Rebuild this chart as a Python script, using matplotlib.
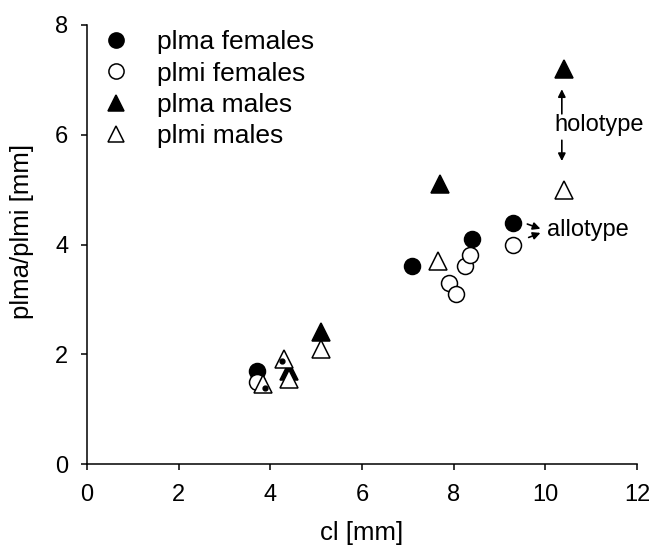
import matplotlib
matplotlib.use("Agg")
import matplotlib.pyplot as plt

# plma / plmi lengths vs. cl
fem_plma_x = [3.7, 7.1, 8.4, 9.3]
fem_plma_y = [1.7, 3.6, 4.1, 4.4]
fem_plmi_x = [3.7, 7.9, 8.05, 8.25, 8.35, 9.3]
fem_plmi_y = [1.5, 3.3, 3.1, 3.6, 3.8, 4.0]
mal_plma_x = [4.4, 5.1, 7.7, 10.4]
mal_plma_y = [1.7, 2.4, 5.1, 7.2]
mal_plmi_x = [3.85, 4.3, 4.4, 5.1, 7.65, 10.4]
mal_plmi_y = [1.45, 1.92, 1.55, 2.1, 3.7, 5.0]
dot_x = [3.88, 4.25]
dot_y = [1.38, 1.87]

plt.rcParams["font.family"] = ["Liberation Sans", "DejaVu Sans"]
plt.rcParams["xtick.direction"] = "out"
plt.rcParams["ytick.direction"] = "out"

fig = plt.figure(figsize=(6.53, 5.47), dpi=100)
ax = fig.add_axes([0.1332, 0.1517, 0.8423, 0.8026])

mew = 1.1
ax.plot(fem_plma_x, fem_plma_y, "o", ms=11.5, mfc="black", mec="black", mew=mew,
        label="plma females", zorder=3)
ax.plot(fem_plmi_x, fem_plmi_y, "o", ms=11.5, mfc="white", mec="black", mew=mew,
        label="plmi females", zorder=3)
ax.plot(mal_plma_x, mal_plma_y, "^", ms=12.5, mfc="black", mec="black", mew=mew,
        label="plma males", zorder=4)
ax.plot(mal_plmi_x, mal_plmi_y, "^", ms=12.5, mfc="white", mec="black", mew=mew,
        label="plmi males", zorder=4)
ax.plot(dot_x, dot_y, "o", ms=3.5, mfc="black", mec="black", zorder=5)

# annotations
arrow_kw = dict(arrowstyle="-|>", color="black", lw=1.2, mutation_scale=11)
ax.text(10.2, 6.17, "holotype", fontsize=17, va="center", ha="left")
ax.annotate("", xy=(10.36, 6.88), xytext=(10.36, 6.33), arrowprops=arrow_kw)
ax.annotate("", xy=(10.36, 5.47), xytext=(10.36, 5.95), arrowprops=arrow_kw)
ax.text(10.04, 4.26, "allotype", fontsize=17, va="center", ha="left")
ax.annotate("", xy=(9.95, 4.27), xytext=(9.55, 4.39), arrowprops=arrow_kw)
ax.annotate("", xy=(9.95, 4.23), xytext=(9.58, 4.11), arrowprops=arrow_kw)

ax.set_xlim(0, 12)
ax.set_ylim(0, 8)
ax.set_xticks(range(0, 13, 2))
ax.set_yticks(range(0, 9, 2))
ax.spines["top"].set_visible(False)
ax.spines["right"].set_visible(False)
ax.spines["left"].set_linewidth(1.1)
ax.spines["bottom"].set_linewidth(1.1)
ax.tick_params(width=1.1, length=4.5, labelsize=17)
ax.tick_params(axis="x", pad=10)
ax.tick_params(axis="y", pad=9)
ax.set_xlabel("cl [mm]", fontsize=18.5, labelpad=11)
ax.set_ylabel("plma/plmi [mm]", fontsize=18.5)
ax.yaxis.set_label_coords(-0.097, 0.53)

ax.legend(loc="upper left", bbox_to_anchor=(-0.015, 1.012), frameon=False,
          fontsize=19, handletextpad=0.55, labelspacing=0.28,
          borderaxespad=0.0, markerscale=0.95)

plt.savefig("out.png", dpi=100)
